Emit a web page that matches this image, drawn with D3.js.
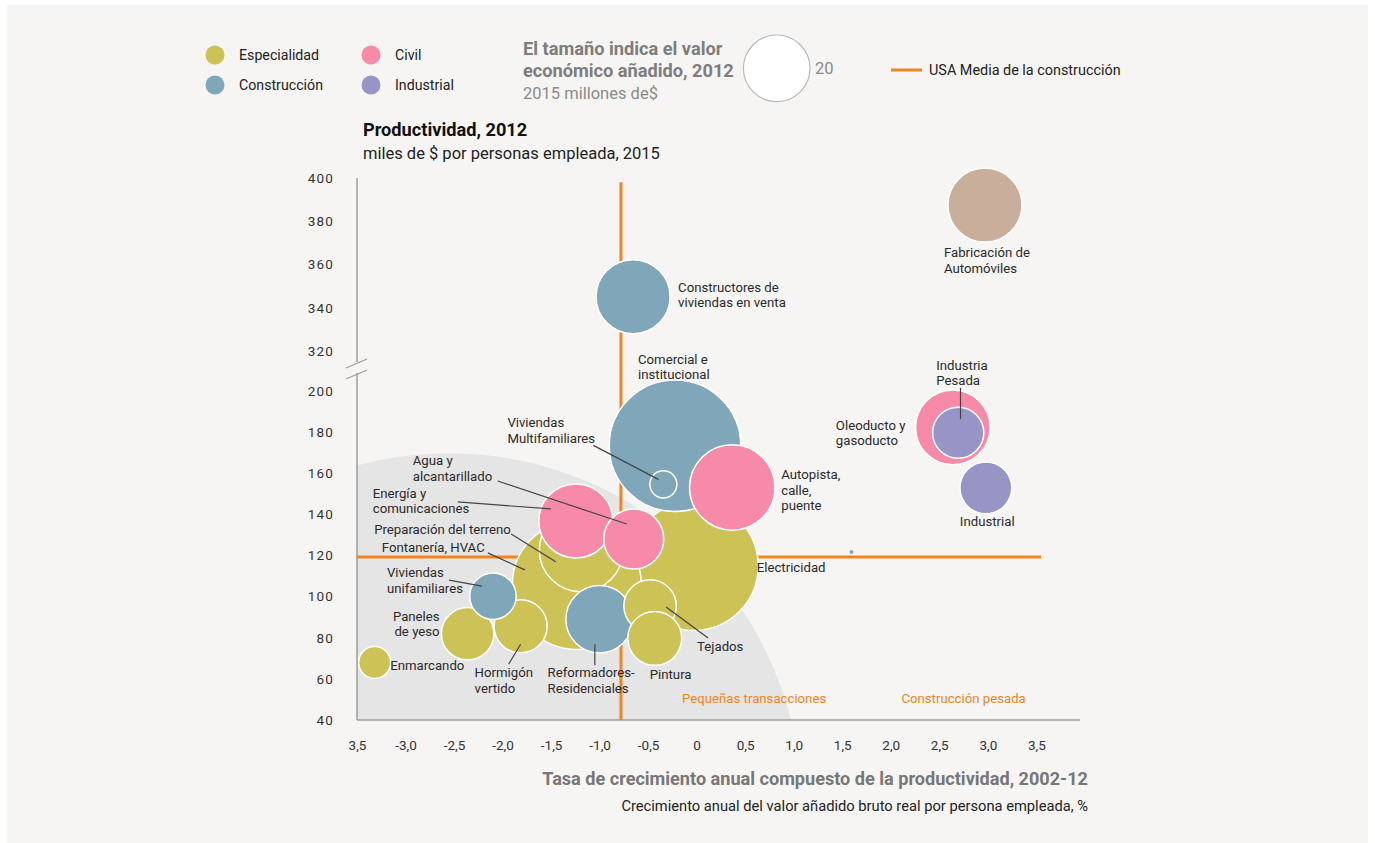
<!DOCTYPE html>
<html>
<head>
<meta charset="utf-8">
<script src="https://cdn.jsdelivr.net/npm/d3@7"></script>
<style>
  body { margin: 0; background: #ffffff; }
  svg text { font-family: "Roboto", "Liberation Sans", sans-serif; }
</style>
</head>
<body>
<div id="chart"></div>
<script>
// draw order: back to front
const names = [
  "Electricidad", "Fontanería, HVAC", "Comercial e institucional", "Preparación del terreno",
  "Energía y comunicaciones", "Agua y alcantarillado", "Autopista, calle, puente",
  "Viviendas Multifamiliares", "Paneles de yeso", "Hormigón vertido", "Viviendas unifamiliares",
  "Reformadores-Residenciales", "Tejados", "Pintura", "Enmarcando",
  "Constructores de viviendas en venta", "Fabricación de Automóviles",
  "Oleoducto y gasoducto", "Industria Pesada", "Industrial", "Otros"
];
const groups = [
  "Especialidad", "Especialidad", "Construcción", "Especialidad",
  "Civil", "Civil", "Civil",
  "Construcción", "Especialidad", "Especialidad", "Construcción",
  "Construcción", "Especialidad", "Especialidad", "Especialidad",
  "Construcción", "Automóviles",
  "Civil", "Industrial", "Industrial", "Construcción"
];
// x: tasa de crecimiento anual compuesto 2002-12, %
const growth = [
  -0.03, -1.235, -0.223, -1.19,
  -1.245, -0.648, 0.367,
  -0.343, -2.36, -1.814, -2.099,
  -1.001, -0.48, -0.432, -3.318,
  -0.655, 2.97,
  2.64, 2.695, 2.98, 1.595
];
// y: productividad 2012, miles de $ por persona empleada
const productivity = [
  114.9, 105.7, 173.4, 122.7,
  136.8, 128.0, 153.1,
  154.6, 82.0, 85.6, 100.2,
  89.0, 95.4, 79.7, 68.0,
  345.1, 387.5,
  182.3, 179.7, 152.9, 121.7
];
// tamaño: valor económico añadido 2012, miles de millones $
const valueAdded = [
  75, 75, 78, 31.6,
  24.7, 16.2, 32.9,
  3.3, 12.4, 12.7, 9.7,
  20.4, 12.4, 13.1, 4.6,
  24.7, 24.7,
  25.1, 11.8, 12.1, 0.07
];

const legendGroups = ["Especialidad", "Construcción", "Civil", "Industrial"];
const xTickValues = [-3.5, -3, -2.5, -2, -1.5, -1, -0.5, 0, 0.5, 1, 1.5, 2, 2.5, 3, 3.5];
const xTickLabels = ["3,5", "-3,0", "-2,5", "-2,0", "-1,5", "-1,0", "-0,5", "0", "0,5", "1,0", "1,5", "2,0", "2,5", "3,0", "3,5"];
const yLowTicks = [40, 60, 80, 100, 120, 140, 160, 180, 200];
const yHighTicks = [320, 340, 360, 380, 400];
const usaGrowth = -0.78;
const usaProductivity = 119.3;
const sizeLegendValue = 20;

const data = names.map((n, i) => ({
  name: n, group: groups[i], x: growth[i], y: productivity[i], v: valueAdded[i]
}));

const width = 1375, height = 843;

const color = d3.scaleOrdinal()
  .domain(["Especialidad", "Construcción", "Civil", "Industrial", "Automóviles"])
  .range(["#ccc256", "#7fa7b9", "#f78aa8", "#9695c6", "#c9ae9c"]);

const x = d3.scaleLinear().domain([-3.5, 3.95]).range([357, 1080]);
const yLow = d3.scaleLinear().domain([40, 200]).range([720, 391]);
const yHigh = d3.scaleLinear().domain([320, 400]).range([351, 178]);
const yPos = v => v >= 300 ? yHigh(v) : yLow(v);
const r = d3.scaleSqrt().domain([0, 20]).range([0, 33.3]);

// label layout: offsets from bubble centre, px
const labelLayout = {
  "Electricidad": { dx: 63, dy: 6, lines: ["Electricidad"] },
  "Fontanería, HVAC": { dx: -195, dy: -33, lines: ["Fontanería, HVAC"], lead: [-89, -32, -52, -15] },
  "Comercial e institucional": { dx: -37, dy: -82, lines: ["Comercial e", "institucional"] },
  "Preparación del terreno": { dx: -207, dy: -15.5, lines: ["Preparación del terreno"], lead: [-70, -16, -25.5, 11.7] },
  "Energía y comunicaciones": { dx: -203, dy: -23, lines: ["Energía y", "comunicaciones"], lead: [-118, -19, -25, -12] },
  "Agua y alcantarillado": { dx: -221, dy: -74, lines: ["Agua y", "alcantarillado"], lead: [-136, -58, -7, -15] },
  "Autopista, calle, puente": { dx: 49, dy: -8, lines: ["Autopista,", "calle,", "puente"] },
  "Viviendas Multifamiliares": { dx: -156, dy: -57, lines: ["Viviendas", "Multifamiliares"], lead: [-70, -39, -5, -5] },
  "Viviendas unifamiliares": { dx: -106, dy: -19, lines: ["Viviendas", "unifamiliares"], lead: [-44, -16, -11, -10] },
  "Paneles de yeso": { dx: -28, dy: -13, lines: ["Paneles", "de yeso"], anchor: "end" },
  "Hormigón vertido": { dx: -46, dy: 51, lines: ["Hormigón", "vertido"], lead: [-12, 38, 0, 18] },
  "Reformadores-Residenciales": { dx: -52, dy: 58, lines: ["Reformadores-", "Residenciales"], lead: [-4.7, 46, -4.7, 25] },
  "Tejados": { dx: 47, dy: 44.5, lines: ["Tejados"], lead: [16, 1, 58, 32] },
  "Pintura": { dx: -5, dy: 41, lines: ["Pintura"] },
  "Enmarcando": { dx: 15.5, dy: 7.5, lines: ["Enmarcando"] },
  "Constructores de viviendas en venta": { dx: 45, dy: -5, lines: ["Constructores de", "viviendas en venta"] },
  "Fabricación de Automóviles": { dx: -41, dy: 52, lines: ["Fabricación de", "Automóviles"] },
  "Oleoducto y gasoducto": { dx: -117, dy: 2.5, lines: ["Oleoducto y", "gasoducto"] },
  "Industria Pesada": { dx: -22, dy: -63, lines: ["Industria", "Pesada"], lead: [2.3, -45, 2.3, -13.5] },
  "Industrial": { dx: -26, dy: 38, lines: ["Industrial"] }
};

const svg = d3.select("#chart")
  .append("svg")
  .attr("width", width)
  .attr("height", height);

// fondo
svg.append("rect")
  .attr("x", 7).attr("y", 5)
  .attr("width", 1361).attr("height", 838)
  .attr("fill", "#f6f5f3");

// zona gris (pequeñas transacciones)
svg.append("clipPath").attr("id", "plotClip")
  .append("rect")
  .attr("x", x(-3.5)).attr("y", yHigh(400))
  .attr("width", x(3.95) - x(-3.5)).attr("height", yLow(40) - yHigh(400));

const zoneCenter = [-2.55, -1.6];
const zoneRadius = 3.63;
svg.append("circle")
  .attr("clip-path", "url(#plotClip)")
  .attr("cx", x(zoneCenter[0]))
  .attr("cy", yLow(zoneCenter[1]))
  .attr("r", x(zoneCenter[0] + zoneRadius) - x(zoneCenter[0]))
  .attr("fill", "#e6e5e5");

// ejes
const axisColor = "#9c9c9c";
const xAxis = svg.append("g")
  .attr("transform", `translate(0,${yLow(40)})`)
  .call(d3.axisBottom(x).tickValues(xTickValues).tickFormat((d, i) => xTickLabels[i]).tickSize(0).tickPadding(20));
xAxis.select(".domain").remove();
xAxis.selectAll("text")
  .style("font-family", "Roboto, sans-serif")
  .style("font-size", "13.5px")
  .attr("fill", "#333");

const yAxisLow = svg.append("g")
  .attr("transform", `translate(${x(-3.5)},0)`)
  .call(d3.axisLeft(yLow).tickValues(yLowTicks).tickSize(0).tickPadding(23));
const yAxisHigh = svg.append("g")
  .attr("transform", `translate(${x(-3.5)},0)`)
  .call(d3.axisLeft(yHigh).tickValues(yHighTicks).tickSize(0).tickPadding(23));
[yAxisLow, yAxisHigh].forEach(g => {
  g.select(".domain").remove();
  g.selectAll("text")
    .style("font-family", "Roboto, sans-serif")
    .style("font-size", "13.5px")
    .style("letter-spacing", "1.2px")
    .attr("fill", "#333");
});

svg.append("line")
  .attr("x1", x(-3.5)).attr("x2", x(3.95))
  .attr("y1", yLow(40)).attr("y2", yLow(40))
  .attr("stroke", axisColor).attr("stroke-width", 1.5);
svg.append("line")
  .attr("x1", x(-3.5)).attr("x2", x(-3.5))
  .attr("y1", yHigh(400)).attr("y2", 362)
  .attr("stroke", axisColor).attr("stroke-width", 1.5);
svg.append("line")
  .attr("x1", x(-3.5)).attr("x2", x(-3.5))
  .attr("y1", 373).attr("y2", yLow(40))
  .attr("stroke", axisColor).attr("stroke-width", 1.5);
// marca de corte
[0, 11].forEach(off => {
  svg.append("line")
    .attr("x1", x(-3.5) - 11).attr("y1", 368 + off)
    .attr("x2", x(-3.5) + 10).attr("y2", 359 + off)
    .attr("stroke", axisColor).attr("stroke-width", 1.2);
});

// medias USA
const orange = "#f0841e";
svg.append("line")
  .attr("x1", x(usaGrowth)).attr("x2", x(usaGrowth))
  .attr("y1", yHigh(398)).attr("y2", yLow(40))
  .attr("stroke", orange).attr("stroke-width", 3);
svg.append("line")
  .attr("x1", x(-3.5)).attr("x2", x(3.55))
  .attr("y1", yLow(usaProductivity)).attr("y2", yLow(usaProductivity))
  .attr("stroke", orange).attr("stroke-width", 3);

// burbujas
svg.selectAll("circle.bubble")
  .data(data)
  .enter()
  .append("circle")
  .attr("class", "bubble")
  .attr("cx", d => x(d.x))
  .attr("cy", d => yPos(d.y))
  .attr("r", d => r(d.v))
  .attr("fill", d => color(d.group))
  .attr("stroke", d => d.v < 1 ? "none" : "#ffffff")
  .attr("stroke-width", 1.5);

// etiquetas
const labelG = svg.append("g");
data.forEach(d => {
  const lay = labelLayout[d.name];
  if (!lay) return;
  const cx = x(d.x), cy = yPos(d.y);
  if (lay.lead) {
    labelG.append("line")
      .attr("x1", cx + lay.lead[0]).attr("y1", cy + lay.lead[1])
      .attr("x2", cx + lay.lead[2]).attr("y2", cy + lay.lead[3])
      .attr("stroke", "#444").attr("stroke-width", 1.2);
  }
  const t = labelG.append("text")
    .attr("x", cx + lay.dx)
    .attr("y", cy + lay.dy)
    .attr("text-anchor", lay.anchor || "start")
    .style("font-size", "13.2px")
    .attr("fill", "#2a2a2a");
  lay.lines.forEach((ln, i) => {
    t.append("tspan")
      .attr("x", cx + lay.dx)
      .attr("dy", i === 0 ? 0 : 15.5)
      .text(ln);
  });
});

// etiquetas de zonas
svg.append("text")
  .attr("x", x(-0.15)).attr("y", 703)
  .style("font-size", "13.2px")
  .attr("fill", orange)
  .text("Pequeñas transacciones");
svg.append("text")
  .attr("x", x(2.11)).attr("y", 703)
  .style("font-size", "13.2px")
  .attr("fill", orange)
  .text("Construcción pesada");

// leyenda de categorías
const legendPos = [[215, 55], [215, 85], [371, 55], [371, 85]];
legendGroups.forEach((g, i) => {
  svg.append("circle")
    .attr("cx", legendPos[i][0]).attr("cy", legendPos[i][1])
    .attr("r", 9.5)
    .attr("fill", color(g));
  svg.append("text")
    .attr("x", legendPos[i][0] + 24).attr("y", legendPos[i][1] + 5)
    .style("font-size", "14.2px")
    .attr("fill", "#222")
    .text(g);
});

// leyenda de tamaño
svg.append("text")
  .attr("x", 523).attr("y", 55)
  .style("font-size", "18.2px").style("font-weight", "bold")
  .attr("fill", "#7d7d7d")
  .text("El tamaño indica el valor");
svg.append("text")
  .attr("x", 523).attr("y", 77)
  .style("font-size", "18.2px").style("font-weight", "bold")
  .attr("fill", "#7d7d7d")
  .text("económico añadido, 2012");
svg.append("text")
  .attr("x", 523).attr("y", 99)
  .style("font-size", "16.5px")
  .attr("fill", "#8a8a8a")
  .text("2015 millones de$");
svg.append("circle")
  .attr("cx", 776.7).attr("cy", 68.3)
  .attr("r", r(sizeLegendValue))
  .attr("fill", "#ffffff")
  .attr("stroke", "#b9b9b9").attr("stroke-width", 1.2);
svg.append("text")
  .attr("x", 815).attr("y", 74)
  .style("font-size", "16.5px")
  .attr("fill", "#8a8a8a")
  .text(sizeLegendValue);

// leyenda línea USA
svg.append("line")
  .attr("x1", 891).attr("x2", 922)
  .attr("y1", 70).attr("y2", 70)
  .attr("stroke", orange).attr("stroke-width", 3);
svg.append("text")
  .attr("x", 929).attr("y", 75)
  .style("font-size", "14.4px")
  .attr("fill", "#222")
  .text("USA Media de la construcción");

// título eje y
svg.append("text")
  .attr("x", 363).attr("y", 136)
  .style("font-size", "18.2px").style("font-weight", "bold")
  .attr("fill", "#111")
  .text("Productividad, 2012");
svg.append("text")
  .attr("x", 363).attr("y", 159)
  .style("font-size", "16.5px")
  .attr("fill", "#222")
  .text("miles de $ por personas empleada, 2015");

// título eje x
svg.append("text")
  .attr("x", 1088).attr("y", 785)
  .attr("text-anchor", "end")
  .style("font-size", "18.1px").style("font-weight", "bold")
  .attr("fill", "#777")
  .text("Tasa de crecimiento anual compuesto de la productividad, 2002-12");
svg.append("text")
  .attr("x", 1088).attr("y", 811)
  .attr("text-anchor", "end")
  .style("font-size", "14.7px")
  .attr("fill", "#222")
  .text("Crecimiento anual del valor añadido bruto real por persona empleada, %");
</script>
</body>
</html>
